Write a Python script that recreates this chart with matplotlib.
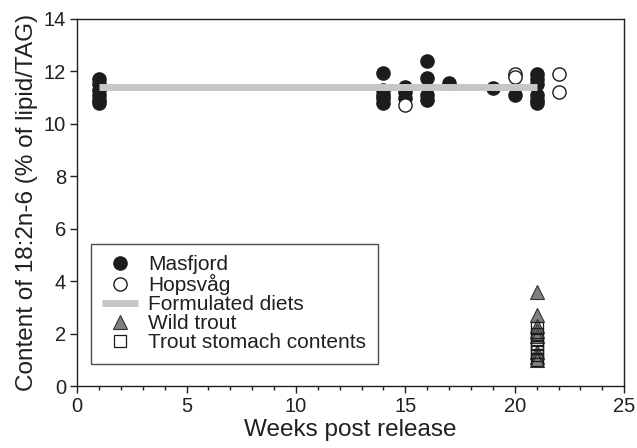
import matplotlib
matplotlib.use('Agg')
import matplotlib.pyplot as plt
from matplotlib.ticker import MultipleLocator

plt.rcParams['font.family'] = ['Liberation Sans', 'DejaVu Sans']

# Masfjord (filled circles)
mas_weeks = [1, 1, 1, 1, 1, 1,
             14, 14, 14, 14, 14,
             15, 15, 15,
             16, 16, 16, 16,
             17, 19, 20,
             21, 21, 21, 21, 21, 21]
mas_vals = [11.7, 11.5, 11.3, 11.1, 10.9, 10.8,
            11.95, 11.3, 11.1, 11.0, 10.8,
            11.4, 11.2, 11.0,
            12.4, 11.75, 11.1, 10.9,
            11.55, 11.35, 11.1,
            11.9, 11.7, 11.5, 11.1, 10.9, 10.8]

# Hopsvåg (open circles)
hop_weeks = [15, 20, 20, 22, 22]
hop_vals = [10.7, 11.9, 11.8, 11.9, 11.2]

# Formulated diets
diet_weeks = [1, 21]
diet_vals = [11.4, 11.4]

# Wild trout (grey triangles)
wild_weeks = [21, 21, 21, 21, 21, 21, 21, 21]
wild_vals = [3.6, 2.7, 2.3, 2.1, 1.9, 1.3, 1.1, 1.0]

# Trout stomach contents (open squares)
stom_weeks = [21, 21, 21, 21, 21, 21, 21, 21]
stom_vals = [2.2, 2.0, 1.8, 1.6, 1.5, 1.3, 1.2, 1.0]

ink = '#231f20'

fig = plt.figure(figsize=(6.37, 4.48), dpi=100)
ax = fig.add_axes([0.121, 0.138, 0.859, 0.82])

ax.plot(mas_weeks, mas_vals, 'o', color='#1c1c1e', markeredgecolor='#1c1c1e',
        markersize=9.5, linestyle='none', label='Masfjord', zorder=3)
ax.plot(hop_weeks, hop_vals, 'o', markerfacecolor='white', markeredgecolor='#1c1c1e',
        markeredgewidth=1.0, markersize=9.5, linestyle='none', label='Hopsvåg', zorder=3)
ax.plot(diet_weeks, diet_vals, color='#c6c6c6', linewidth=5,
        solid_capstyle='butt', label='Formulated diets', zorder=4)
ax.plot(wild_weeks, wild_vals, '^', markerfacecolor='#808080', markeredgecolor='#333333',
        markeredgewidth=0.8, markersize=9.5, linestyle='none', label='Wild trout', zorder=3)
ax.plot(stom_weeks, stom_vals, 's', markerfacecolor='none', markeredgecolor='#1c1c1e',
        markeredgewidth=0.9, markersize=8.5, linestyle='none',
        label='Trout stomach contents', zorder=4)

ax.set_xlim(0, 25)
ax.set_ylim(0, 14)
ax.xaxis.set_major_locator(MultipleLocator(5))
ax.xaxis.set_minor_locator(MultipleLocator(1))
ax.yaxis.set_major_locator(MultipleLocator(2))
ax.tick_params(axis='both', which='major', direction='out', length=5, width=1,
               labelsize=14.5, colors=ink, pad=3)
ax.tick_params(axis='x', which='minor', direction='out', length=3, width=1, colors=ink)
for s in ax.spines.values():
    s.set_linewidth(1.0)
    s.set_color(ink)

ax.set_xlabel('Weeks post release', fontsize=17.5, color=ink, labelpad=2)
ax.set_ylabel('Content of 18:2n-6 (% of lipid/TAG)', fontsize=17.5, color=ink, labelpad=4)

handles, labels = ax.get_legend_handles_labels()
order = ['Masfjord', 'Hopsvåg', 'Formulated diets', 'Wild trout', 'Trout stomach contents']
hmap = dict(zip(labels, handles))
leg = ax.legend([hmap[k] for k in order], order, loc='lower left',
                bbox_to_anchor=(0.025, 0.061), fontsize=15, frameon=True,
                fancybox=False, edgecolor=ink, handlelength=1.7,
                handletextpad=0.5, borderpad=0.55, labelspacing=0.0,
                borderaxespad=0, markerscale=1.0)
leg.get_frame().set_linewidth(1.0)
for t in leg.get_texts():
    t.set_color(ink)

fig.savefig('out.png', dpi=100)
